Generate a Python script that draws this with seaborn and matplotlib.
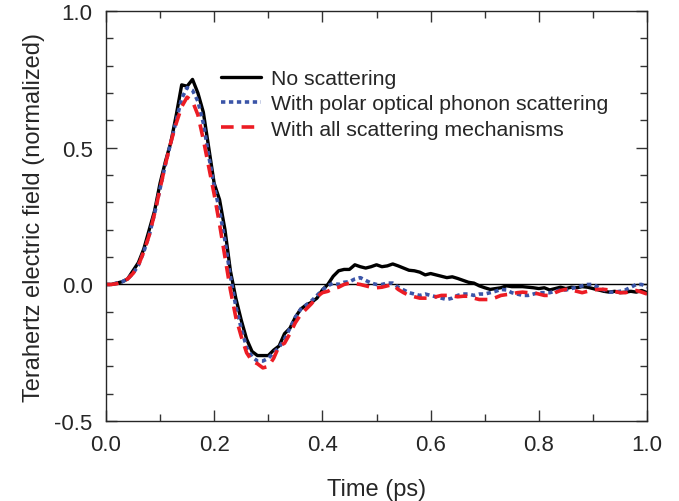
import numpy as np
import pandas as pd
import matplotlib
matplotlib.use("Agg")
import matplotlib.pyplot as plt
from matplotlib.ticker import MultipleLocator
import seaborn as sns

# time axis (ps), 0.01 ps steps
time_ps = np.round(np.arange(0, 1.001, 0.01), 2)

no_scattering = [
    0.0, 0.0, 0.005, 0.01, 0.02, 0.05, 0.08, 0.13, 0.20, 0.27,
    0.37, 0.45, 0.52, 0.62, 0.73, 0.725, 0.75, 0.70, 0.63, 0.50,
    0.37, 0.31, 0.20, 0.05, -0.05, -0.13, -0.20, -0.245, -0.26, -0.26,
    -0.26, -0.24, -0.225, -0.18, -0.16, -0.12, -0.09, -0.075, -0.065, -0.05,
    -0.02, 0.0, 0.03, 0.05, 0.055, 0.055, 0.072, 0.065, 0.06, 0.065,
    0.072, 0.065, 0.068, 0.075, 0.068, 0.06, 0.052, 0.05, 0.045, 0.035,
    0.04, 0.035, 0.03, 0.025, 0.028, 0.022, 0.015, 0.008, 0.005, -0.005,
    -0.012, -0.018, -0.015, -0.012, -0.005, -0.008, -0.008, -0.008, -0.01, -0.012,
    -0.015, -0.012, -0.02, -0.015, -0.01, -0.015, -0.01, -0.012, -0.008, -0.01,
    -0.015, -0.02, -0.025, -0.028, -0.025, -0.03, -0.028, -0.025, -0.028, -0.022,
    -0.03,
]

polar_optical = [
    0.0, 0.0, 0.005, 0.01, 0.02, 0.04, 0.07, 0.12, 0.18, 0.26,
    0.35, 0.44, 0.52, 0.60, 0.68, 0.72, 0.71, 0.67, 0.59, 0.47,
    0.36, 0.27, 0.16, 0.03, -0.08, -0.16, -0.23, -0.265, -0.28, -0.28,
    -0.27, -0.25, -0.23, -0.20, -0.16, -0.12, -0.09, -0.075, -0.06, -0.04,
    -0.02, -0.005, 0.005, 0.0, 0.008, 0.01, 0.02, 0.025, 0.015, 0.005,
    0.0, 0.0, 0.005, 0.005, -0.01, -0.02, -0.03, -0.035, -0.04, -0.035,
    -0.04, -0.045, -0.05, -0.055, -0.05, -0.04, -0.035, -0.035, -0.04, -0.035,
    -0.035, -0.03, -0.025, -0.018, -0.02, -0.03, -0.035, -0.04, -0.04, -0.035,
    -0.03, -0.03, -0.03, -0.025, -0.02, -0.02, -0.015, -0.01, -0.005, 0.0,
    0.0, -0.01, -0.02, -0.028, -0.028, -0.025, -0.02, -0.01, 0.0, 0.0,
    -0.01,
]

all_scattering = [
    0.0, 0.0, 0.003, 0.01, 0.02, 0.04, 0.07, 0.12, 0.18, 0.26,
    0.35, 0.44, 0.52, 0.59, 0.65, 0.685, 0.67, 0.62, 0.53, 0.43,
    0.33, 0.22, 0.10, -0.02, -0.12, -0.19, -0.25, -0.28, -0.29, -0.305,
    -0.30, -0.27, -0.225, -0.215, -0.18, -0.14, -0.11, -0.09, -0.07, -0.045,
    -0.03, -0.025, -0.015, -0.01, 0.0, 0.005, 0.003, 0.0, -0.005, -0.01,
    -0.012, -0.01, -0.005, 0.0, -0.018, -0.03, -0.04, -0.045, -0.05, -0.05,
    -0.05, -0.045, -0.04, -0.04, -0.042, -0.045, -0.043, -0.043, -0.05, -0.055,
    -0.055, -0.055, -0.048, -0.04, -0.037, -0.035, -0.03, -0.028, -0.03, -0.03,
    -0.035, -0.04, -0.04, -0.03, -0.022, -0.018, -0.02, -0.025, -0.03, -0.025,
    -0.02, -0.018, -0.018, -0.02, -0.025, -0.03, -0.03, -0.025, -0.022, -0.028,
    -0.035,
]

labels = [
    "No scattering",
    "With polar optical phonon scattering",
    "With all scattering mechanisms",
]

sns.set_style("ticks")
plt.rcParams["font.family"] = ["Liberation Sans", "DejaVu Sans"]
plt.rcParams["axes.unicode_minus"] = False

fig = plt.figure(figsize=(6.79, 5.02), dpi=100)
ax = fig.add_axes([0.156, 0.159, 0.797, 0.817])

ax.axhline(0, color="black", lw=1.0, zorder=1)

sns.lineplot(x=time_ps, y=no_scattering, ax=ax, color="black", lw=2.4,
             label=labels[0])
sns.lineplot(x=time_ps, y=polar_optical, ax=ax, color="#3b55a8", lw=2.6,
             linestyle=(0, (1.2, 1)), label=labels[1])
sns.lineplot(x=time_ps, y=all_scattering, ax=ax, color="#ec1c24", lw=2.6,
             linestyle=(0, (3.5, 2.2)), label=labels[2])

ax.set_xlim(0, 1.0)
ax.set_ylim(-0.5, 1.0)
ax.xaxis.set_major_locator(MultipleLocator(0.2))
ax.xaxis.set_minor_locator(MultipleLocator(0.1))
ax.yaxis.set_major_locator(MultipleLocator(0.5))
ax.yaxis.set_minor_locator(MultipleLocator(0.1))
ax.tick_params(which="both", direction="in", top=True, right=True,
               labelsize=16, width=1.0, color="#333333")
ax.tick_params(which="major", length=8, pad=9.5)
ax.tick_params(which="minor", length=5)
for s in ax.spines.values():
    s.set_linewidth(1.0)

ax.set_xlabel("Time (ps)", fontsize=17, labelpad=16)
ax.set_ylabel("Terahertz electric field (normalized)", fontsize=17, labelpad=7)

ax.legend(loc="upper left", bbox_to_anchor=(0.212, 0.858), frameon=False,
          fontsize=15.3, handlelength=1.9, handletextpad=0.45,
          labelspacing=0.29, borderaxespad=0, borderpad=0)

fig.savefig("out.png", dpi=100)
